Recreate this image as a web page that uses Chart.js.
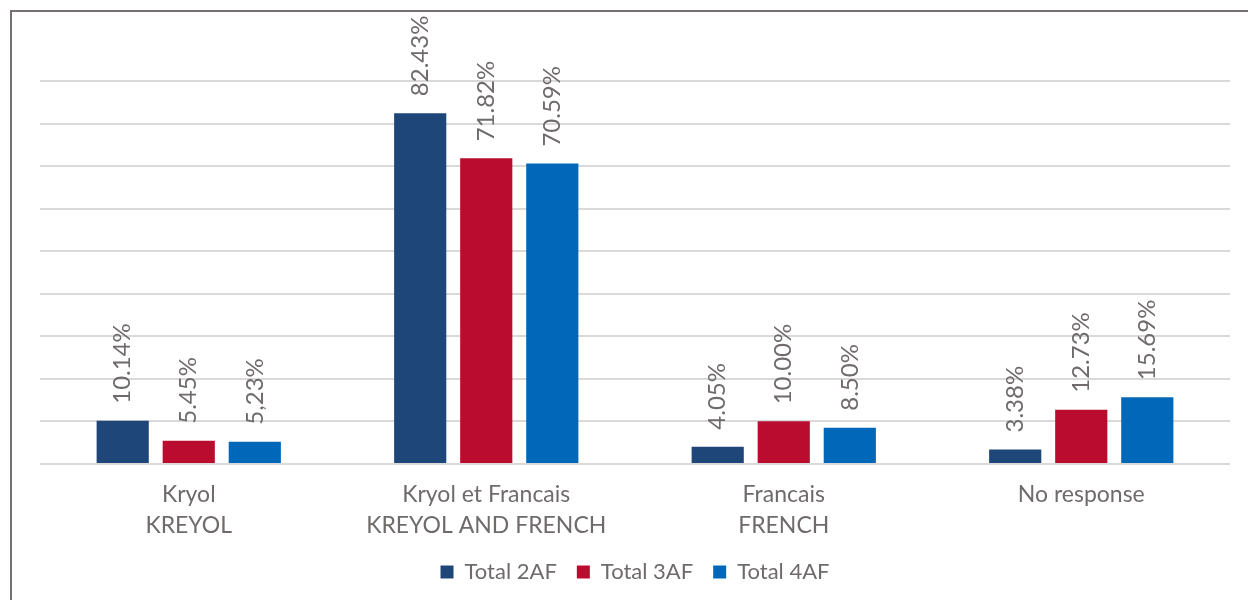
<!DOCTYPE html>
<html>
<head>
<meta charset="utf-8">
<script src="https://cdn.jsdelivr.net/npm/chart.js@4/dist/chart.umd.min.js"></script>
<style>
  html, body { margin: 0; padding: 0; background: #fff; overflow: hidden; }
  #frame {
    position: absolute; left: 10px; top: 10px; width: 1400px; height: 800px;
    border-top: 2px solid #767171; border-left: 2px solid #767171;
  }
  #language-chart { position: absolute; left: 0; top: 0; }
</style>
</head>
<body>
<div id="frame"></div>
<canvas id="language-chart" width="1248" height="600"></canvas>
<script>
const categories = [
  ['Kryol', 'KREYOL'],
  ['Kryol et Francais', 'KREYOL AND FRENCH'],
  ['Francais', 'FRENCH'],
  ['No response']
]
const total2AF = [10.14, 82.43, 4.05, 3.38]
const total3AF = [5.45, 71.82, 10.00, 12.73]
const total4AF = [5.23, 70.59, 8.50, 15.69]
// decimal separator used in each printed value (one of them was typed with a comma)
const decimals2AF = ['.', '.', '.', '.']
const decimals3AF = ['.', '.', '.', '.']
const decimals4AF = [',', '.', '.', '.']
const yMax = 90
const yStep = 10

const textColor = '#6f6b6b'
const fontFamily = 'Lato, "Open Sans", sans-serif'

// rotated percentage printed above every bar
const barValueLabels = {
  id: 'barValueLabels',
  afterDatasetsDraw(chart) {
    const ctx = chart.ctx
    ctx.save()
    ctx.font = '24px ' + fontFamily
    ctx.fillStyle = textColor
    ctx.textAlign = 'left'
    ctx.textBaseline = 'middle'
    chart.data.datasets.forEach((ds, i) => {
      chart.getDatasetMeta(i).data.forEach((bar, j) => {
        const text = ds.data[j].toFixed(2).replace('.', ds.decimalMarks[j]) + '%'
        ctx.save()
        ctx.translate(bar.x, bar.y - 17)
        ctx.rotate(-Math.PI / 2)
        ctx.fillText(text, 0, 0)
        ctx.restore()
      })
    })
    ctx.restore()
  }
}

const languageChart = () => {
  const options = {
    type: 'bar',
    data: {
      labels: categories,
      datasets: [{
        label: 'Total 2AF',
        data: total2AF,
        decimalMarks: decimals2AF,
        backgroundColor: '#1f4678'
      }, {
        label: 'Total 3AF',
        data: total3AF,
        decimalMarks: decimals3AF,
        backgroundColor: '#ba0c2f'
      }, {
        label: 'Total 4AF',
        data: total4AF,
        decimalMarks: decimals4AF,
        backgroundColor: '#0067b9'
      }]
    },
    options: {
      responsive: false,
      animation: false,
      categoryPercentage: 0.666,
      barPercentage: 0.79,
      layout: { padding: { left: 40, right: 18, top: 81, bottom: 7 } },
      plugins: {
        legend: {
          position: 'bottom',
          labels: {
            boxWidth: 13,
            boxHeight: 13,
            padding: 20,
            color: textColor,
            font: { family: fontFamily, size: 22 }
          }
        },
        tooltip: { enabled: false }
      },
      scales: {
        x: {
          grid: { display: false, drawTicks: false },
          border: { display: false },
          ticks: {
            color: textColor,
            padding: 15,
            font: { family: fontFamily, size: 23, lineHeight: 1.35 }
          },
          afterFit: (scale) => { scale.height -= 15 }
        },
        y: {
          min: 0,
          max: yMax,
          grid: { color: '#d9d9d9', lineWidth: 2, drawTicks: false },
          border: { display: false },
          ticks: { display: false, stepSize: yStep }
        }
      }
    },
    plugins: [barValueLabels]
  }
  const canvas = document.getElementById('language-chart').getContext('2d')
  new Chart(canvas, options)
}

window.onload = () => {
  languageChart()
}
</script>
</body>
</html>
